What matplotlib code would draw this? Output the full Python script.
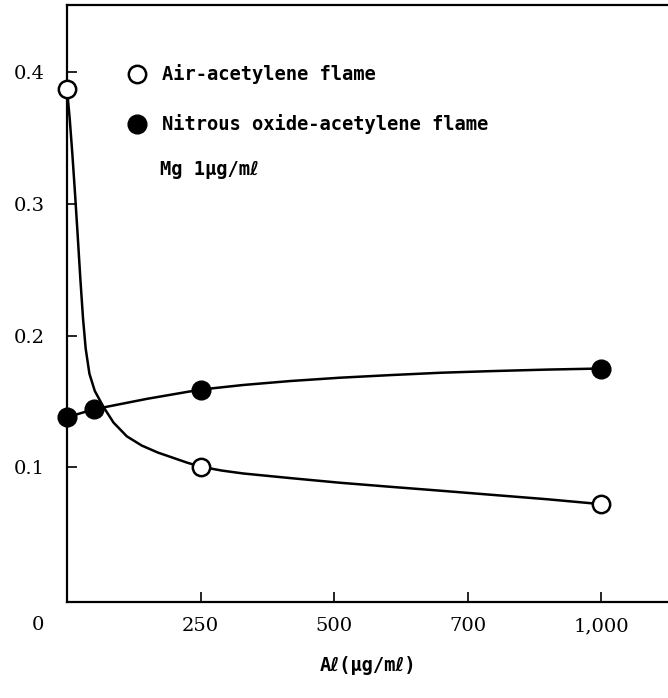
import matplotlib.pyplot as plt

# measured points
air_x = [0, 250, 1000]
air_y = [0.387, 0.100, 0.072]
n2o_x = [0, 50, 250, 1000]
n2o_y = [0.138, 0.144, 0.159, 0.175]

# hand-drawn fitted curves
air_curve_x = [0, 5, 10, 15, 20, 25, 30, 35, 42, 52, 68, 87, 112, 140, 170, 200, 225, 250,
               290, 330, 418, 510, 605, 700, 792, 900, 1000]
air_curve_y = [0.387, 0.365, 0.338, 0.308, 0.276, 0.243, 0.213, 0.190, 0.171, 0.158, 0.146,
               0.134, 0.1235, 0.1165, 0.1112, 0.107, 0.1035, 0.1005,
               0.0975, 0.0953, 0.0918, 0.0883, 0.0852, 0.0822, 0.0792, 0.0757, 0.072]
n2o_curve_x = [0, 50, 150, 250, 330, 418, 510, 605, 700, 792, 900, 1000]
n2o_curve_y = [0.138, 0.144, 0.152, 0.159, 0.1625, 0.1655, 0.168, 0.170, 0.1718, 0.173, 0.1742, 0.175]

xticks = [250, 500, 750, 1000]
xtick_labels = ['250', '500', '700', '1,000']
yticks = [0.1, 0.2, 0.3, 0.4]
ytick_labels = ['0.1', '0.2', '0.3', '0.4']

legend_labels = ['Air-acetylene flame', 'Nitrous oxide-acetylene flame']
note = 'Mg 1\u03bcg/m\u2113'
xlabel = 'A\u2113(\u03bcg/m\u2113)'

mono = ['DejaVu Sans Mono', 'DejaVu Sans']
serif = 'DejaVu Serif'

fig = plt.figure(figsize=(6.68, 6.98), dpi=100)
ax = fig.add_axes([0.1003, 0.1375, 0.8997, 0.8553])

# curves
ax.plot(air_curve_x, air_curve_y, color='black', lw=1.8, zorder=2, solid_joinstyle='round')
ax.plot(n2o_curve_x, n2o_curve_y, color='black', lw=1.8, zorder=2, solid_joinstyle='round')

# markers
ax.plot(air_x, air_y, 'o', ms=12.5, mfc='white', mec='black', mew=1.8, clip_on=False, zorder=3)
ax.plot(n2o_x, n2o_y, 'o', ms=13.5, mfc='black', mec='black', clip_on=False, zorder=3)

ax.set_xlim(0, 1125)
ax.set_ylim(-0.0023, 0.451)

ax.spines['right'].set_visible(False)
for s in ['left', 'bottom', 'top']:
    ax.spines[s].set_linewidth(1.6)

ax.set_xticks(xticks)
ax.set_xticklabels(xtick_labels, fontsize=14, family=serif)
ax.set_yticks(yticks)
ax.set_yticklabels(ytick_labels, fontsize=14, family=serif)
ax.tick_params(axis='x', direction='in', length=7, width=1.2, pad=11)
ax.tick_params(axis='y', direction='in', length=7, width=1.2, pad=16)

# origin label
ax.annotate('0', xy=(0, 0), xytext=(-29, -26), textcoords='offset pixels',
            ha='center', va='center', fontsize=14, family=serif)

ax.set_xlabel(xlabel, fontsize=13.5, family=mono, fontweight='bold', labelpad=15)

# legend drawn by hand
ax.plot([0.116], [0.885], 'o', ms=12.5, mfc='white', mec='black', mew=1.8, transform=ax.transAxes)
ax.plot([0.116], [0.801], 'o', ms=13.5, mfc='black', mec='black', transform=ax.transAxes)
ax.text(0.158, 0.885, legend_labels[0], transform=ax.transAxes, va='center',
        fontsize=13.5, family=mono, fontweight='bold')
ax.text(0.158, 0.801, legend_labels[1], transform=ax.transAxes, va='center',
        fontsize=13.5, family=mono, fontweight='bold')
ax.text(0.155, 0.725, note, transform=ax.transAxes, va='center',
        fontsize=13.5, family=mono, fontweight='bold')

fig.savefig('out.png', dpi=100)
